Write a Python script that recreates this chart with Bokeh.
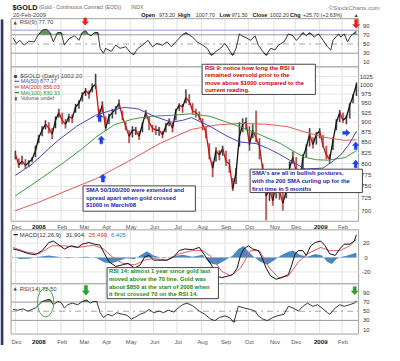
import math
import numpy as np
from bokeh.plotting import figure
from bokeh.models import Range1d, LogScale
from bokeh.core.properties import value
from bokeh.embed import file_html
from bokeh.resources import INLINE

# ---------------- data (x = trading-day index from 3-Dec-2007) ----------------
month_idx = [0, 20, 41, 61, 81, 103, 124, 145, 167, 188, 209, 232, 251, 273, 293]
month_lbl = ["Dec", "2008", "Feb", "Mar", "Apr", "May", "Jun", "Jul", "Aug", "Sep", "Oct", "Nov", "Dec", "2009", "Feb"]

bar_idx = list(range(0, 307, 3))
close = [822, 797, 806, 796, 803, 810, 830,
         862, 880, 895, 885, 870, 905, 925,
         905, 895, 915, 910, 940, 950, 972,
         985, 975, 995, 1002, 918, 945,
         885, 915, 925, 935, 950, 915, 890, 865,
         880, 880, 865, 895, 925, 900, 885,
         880, 880, 868, 890, 903, 885, 930,
         945, 940, 965, 955, 930, 925, 915,
         895, 875, 820, 790, 830, 820, 835,
         805, 800, 745, 780, 865, 895, 900,
         845, 880, 860, 840, 785, 730, 745, 720,
         760, 740, 715, 740, 790, 815,
         780, 752, 815, 838, 870, 845, 870,
         878, 842, 820, 810, 855, 900, 925,
         905, 913, 945, 970, 1002]
high = [830, 812, 818, 810, 808, 815, 842,
        868, 890, 905, 900, 885, 915, 935,
        925, 908, 922, 920, 948, 958, 980,
        992, 985, 1005, 1033, 935, 955,
        915, 922, 935, 942, 960, 930, 900, 880,
        890, 888, 878, 900, 932, 915, 893,
        892, 888, 878, 898, 910, 898, 935,
        950, 948, 988, 975, 950, 935, 928,
        910, 890, 848, 805, 838, 832, 842,
        830, 810, 768, 790, 900, 910, 912,
        890, 895, 930, 860, 800, 770, 760, 760,
        770, 758, 738, 755, 805, 828,
        815, 775, 822, 845, 885, 862, 875,
        885, 868, 842, 822, 862, 908, 932,
        925, 918, 950, 975, 1008]
low = [810, 790, 798, 788, 792, 803, 815,
       848, 865, 882, 872, 858, 885, 912,
       895, 884, 900, 898, 925, 935, 955,
       970, 962, 980, 990, 908, 925,
       878, 895, 910, 920, 935, 905, 880, 848,
       862, 868, 856, 875, 910, 880, 875,
       868, 866, 860, 875, 890, 875, 905,
       930, 925, 950, 945, 920, 912, 905,
       880, 860, 810, 770, 805, 808, 818,
       795, 780, 740, 755, 840, 875, 880,
       830, 860, 850, 810, 760, 681, 720, 710,
       725, 722, 700, 725, 745, 800,
       760, 738, 770, 815, 840, 835, 845,
       860, 838, 810, 800, 832, 880, 900,
       898, 895, 910, 950, 970]

sma50_idx = [0, 15, 30, 38, 55, 72, 85, 98, 110, 125, 140, 150, 158, 175, 190, 201, 216, 227, 236, 253, 260, 276, 285, 293, 300, 306]
sma50 = [774, 799, 835, 854, 890, 918, 930, 939, 935, 915, 900, 905, 912, 889, 865, 851, 847, 835, 823, 798, 788, 790, 806, 823, 848, 877.17]
sma100_idx = [0, 20, 43, 60, 72, 89, 105, 120, 140, 158, 175, 190, 205, 220, 238, 250, 259, 270, 280, 296, 306]
sma100 = [730, 762, 802, 835, 862, 894, 908, 915, 918, 922, 915, 900, 885, 868, 847, 828, 815, 809, 808, 814, 830.33]
sma200_idx = [0, 20, 43, 72, 90, 106, 130, 158, 180, 201, 225, 244, 260, 278, 295, 306]
sma200 = [700, 716, 738, 766, 790, 812, 848, 882, 893, 897, 895, 889, 875, 862, 855, 856.03]

rsi9_idx = [-2, 1, 4, 8, 12, 17, 20, 24, 28, 31, 34, 38, 41, 44, 48, 53, 57, 60, 63, 66,
            68, 71, 74, 76, 79, 81, 86, 90, 94, 99, 103, 106, 110, 114, 119, 123, 127, 132, 136, 140,
            144, 149, 153, 157, 159, 163, 168, 172, 176, 180, 184, 188, 191, 195, 198, 201, 203, 206, 211, 215,
            218, 222, 225, 229, 233, 236, 241, 245, 249, 252, 255, 258, 261, 264, 268, 272, 277, 280, 283, 285,
            290, 292, 295, 298, 301, 303, 306]
rsi9 = [62.9, 51, 58, 47.5, 56, 54.6, 68, 80, 82, 75, 54.6, 75, 75, 47.5, 61, 68, 58, 75, 79, 70,
        68, 75, 75, 40.6, 30, 40.6, 33.7, 47.5, 40.6, 44, 32, 26.7, 40.6, 47.5, 58, 44, 51, 47.5, 54.6, 44,
        54.6, 68, 75, 68, 65, 54.6, 47.5, 40.6, 25, 33.7, 40.6, 51, 40.6, 25, 40.6, 72, 68, 65, 58, 68,
        47.5, 33.7, 25, 40.6, 37, 47.5, 54.6, 72, 68, 58, 65, 75, 68, 75, 65, 72, 54.6, 44, 37, 58,
        72, 65, 72, 54.6, 68, 72, 77.7]

macd_idx = [-2, 4, 12, 18, 24, 30, 34, 38, 44, 50, 56, 60, 66, 71, 76, 80, 84, 90, 96, 101,
            107, 112, 116, 120, 124, 130, 136, 142, 147, 152, 159, 165, 170, 176, 180, 185, 191, 195, 199, 202,
            205, 209, 213, 218, 221, 225, 229, 234, 239, 245, 248, 251, 254, 258, 261, 265, 269, 274, 278, 282,
            287, 291, 295, 300, 304, 306]
macd = [12, 9.7, 5.3, 4, 9.7, 21, 23, 18.7, 12, 16.4, 14.2, 18.7, 21, 18.7, 17.3, 5.3, -5.8, -12.4, -10.2, -8,
        -14.7, -10.2, 0.9, 3, -3.6, -3.6, -3.6, 0.9, 9.7, 12, 11, 14.2, 3, -10.2, -25.7, -28, -25.7, -23.6, -14.7, 3,
        12, 16.4, 12, 9.7, 0.9, -14.7, -25.7, -30.2, -28, -23.6, -10.2, 5.3, 9.7, 9.7, 3, 16.4, 21, 23, 16.4, 5.3,
        3, 12, 18.7, 18.7, 23, 31.904]
sig_idx = [-2, 10, 21, 33, 44, 56, 70, 79, 87, 96, 107, 116, 124, 136, 147, 159, 168, 176, 185, 193,
           202, 211, 219, 228, 236, 245, 254, 262, 274, 282, 291, 300, 306]
signal = [14, 7.6, 5.3, 16.4, 16.4, 14.2, 17.3, 12, 0.9, -8, -10.2, -3.6, -1.3, -3.6, 5.3, 9.7, 9.7, 0.9, -19, -25.7,
          -14.7, 9.7, 9.7, -14.7, -28, -25.7, -5.8, 5.3, 14.2, 9.7, 9.7, 16.4, 25.499]
hist_idx = [-3, 4, 12, 21, 30, 38, 47, 56, 64, 73, 80, 86, 92, 99, 107, 114, 118, 124, 133, 142,
            150, 159, 168, 174, 181, 189, 195, 200, 205, 209, 214, 219, 226, 232, 238, 245, 249, 255, 262, 269,
            275, 280, 284, 288, 293, 298, 304, 306]
hist = [1, -2, -1.5, 1, 3, 1, -1, 0.5, 1, -1, -7, -8, -5, -1, -2, 5, 9, 3, -1, 2,
        4, 1, 4, -8, -10, -3, 3, 12, 16, 8, 1, -5, -10, -4, 3, 8, 10, 4, 1, 5,
        3, -6, -9, -2, 1, 3, 6, 6.405]

rsi14_idx = [-2, 2, 7, 11, 15, 18, 21, 24, 28, 31, 34, 38, 41, 44, 47, 51, 56, 60, 64, 67,
             70, 73, 76, 79, 83, 87, 91, 96, 100, 104, 107, 112, 116, 120, 124, 129, 133, 137, 142, 146,
             150, 154, 159, 165, 170, 175, 179, 183, 188, 192, 196, 200, 205, 211, 215, 218, 222, 226, 231, 235,
             241, 245, 249, 254, 258, 262, 267, 271, 275, 280, 282, 287, 291, 295, 300, 304, 306]
rsi14 = [53.9, 52.4, 55, 50.3, 53.9, 57.2, 64.3, 71.2, 74.8, 76, 64.3, 71.2, 69, 57.2, 64.3, 67.7, 64.3, 71.2, 74.8, 67.7,
         71.2, 71.2, 46.8, 36.3, 43.4, 39.9, 46.8, 43.4, 41.4, 33, 36.3, 43.4, 46.8, 53.9, 46.8, 50.3, 46.8, 52.4, 48.2, 57.2,
         64.3, 67.7, 62, 50.3, 43.4, 33, 29.5, 36.3, 39.9, 36.3, 25.9, 60.8, 57.2, 53.9, 50.3, 39.9, 33, 29.5, 36.3, 39.9,
         43.4, 60.8, 57.2, 50.3, 60.8, 67.7, 60.8, 64.3, 57.2, 46.8, 43.4, 57.2, 64.3, 60.8, 64.3, 67.7, 72.5]

rsi_ticks = [90, 70, 50, 30, 10]
price_ticks = [1025, 1000, 975, 950, 925, 900, 875, 850, 825, 800, 775, 750, 725, 700]
macd_ticks = [20, 0, -20]

# ---------------- layout (reference-pixel coordinates) ----------------
W, H = 384, 345
RW, RH = 400, 361
FS = W / RW
X0, XK = 15.5, 1.161


def ix(xpx):
    return (xpx - X0) / XK


PL, PR = 11, 373
RSI9_T, RSI9_B = 19, 69.5
PR_T, PR_B = 69.5, 231
MA_T, MA_B = 240, 296.5
R14_T, R14_B = 296.5, 349


def lin_range(v1, y1, v2, y2):
    s = (v1 - v2) / (y2 - y1)
    return Range1d(v2 - s * (RH - y2), v1 + s * y1)


def log_range(v1, y1, v2, y2):
    b = (y2 - y1) / (math.log(v1) - math.log(v2))
    top = math.exp(math.log(v1) + y1 / b)
    bot = math.exp(math.log(v1) - (RH - y1) / b)
    return Range1d(bot, top)


p = figure(width=W, height=H, output_backend="svg", toolbar_location=None, title=None,
           x_range=Range1d(ix(0), ix(RW)), y_range=Range1d(RH, 0),
           x_axis_location=None, y_axis_location=None, min_border=0)
p.outline_line_color = None
p.background_fill_color = "white"
p.border_fill_color = "white"
p.xgrid.visible = False
p.ygrid.visible = False
p.extra_x_ranges = {"px": Range1d(0, RW)}
p.extra_y_ranges = {
    "rsi9": lin_range(90, 26.3, 10, 64.7),
    "price": log_range(1033, 76.7, 681, 230),
    "macd": lin_range(20, 254, -20, 284),
    "rsi14": lin_range(90, 306, 10, 344.3),
}
p.extra_y_scales = {"price": LogScale()}

FONT = "Liberation Sans"


def texts(xs, ys, ss, size, color="#333333", bold=False, align="left", xr="px", yr="default", font=FONT):
    p.text(x=list(xs), y=list(ys), text=list(ss), x_range_name=xr, y_range_name=yr,
           text_font=value(font), text_font_size=value(f"{size * FS:.2f}px"),
           text_color=color, text_align=align, text_baseline="middle",
           text_font_style="bold" if bold else "normal")


# panels
p.quad(left=[PL] * 4, right=[PR] * 4, top=[RSI9_T, PR_T, MA_T, R14_T], bottom=[RSI9_B, PR_B, MA_B, R14_B],
       x_range_name="px", fill_color="white", line_color="#a0a0a0", line_width=1)
p.quad(left=[0], right=[3], top=[20], bottom=[RH], x_range_name="px", fill_color="#30346e", line_color=None)

# vertical month grid
nm = len(month_idx)
for t, b in [(RSI9_T, RSI9_B), (PR_T, PR_B), (MA_T, MA_B), (R14_T, R14_B)]:
    p.segment(x0=month_idx, x1=month_idx, y0=[t + 0.5] * nm, y1=[b - 0.5] * nm, line_color="#e0e0e0", line_width=1)

# horizontal grids
k = len(price_ticks)
p.segment(x0=[PL] * k, x1=[PR] * k, y0=price_ticks, y1=price_ticks, x_range_name="px", y_range_name="price",
          line_color="#e6e6e6", line_width=1)
p.segment(x0=[PL] * 3, x1=[PR] * 3, y0=macd_ticks, y1=macd_ticks, x_range_name="px", y_range_name="macd",
          line_color="#e6e6e6", line_width=1)
for rn in ["rsi9", "rsi14"]:
    p.segment(x0=[PL] * 2, x1=[PR] * 2, y0=[70, 30], y1=[70, 30], x_range_name="px", y_range_name=rn,
              line_color="#9a9a9a", line_width=1)
    p.segment(x0=[PL], x1=[PR], y0=[50], y1=[50], x_range_name="px", y_range_name=rn,
              line_color="#a8a8a8", line_width=1, line_dash="dashdot")
p.segment(x0=[PL], x1=[PR], y0=[80], y1=[80], x_range_name="px", y_range_name="rsi9",
          line_color="#b9b9e6", line_width=1.6)

# ---------------- RSI(9) ----------------
r9 = np.array(rsi9)
p.varea(x=rsi9_idx, y1=70, y2=np.maximum(r9, 70), y_range_name="rsi9", fill_color="#5f9260")
p.varea(x=rsi9_idx, y1=np.minimum(r9, 30), y2=30, y_range_name="rsi9", fill_color="#9e6f6f")
p.line(rsi9_idx, rsi9, y_range_name="rsi9", line_color="#222222", line_width=0.9)

# ---------------- price ----------------
cl = np.array(close)
col = ["#111111"] + ["#111111" if cl[i] >= cl[i - 1] else "#cc1010" for i in range(1, len(cl))]
p.segment(x0=bar_idx, x1=bar_idx, y0=low, y1=high, y_range_name="price", line_color="#b0b0b0", line_width=2.2)
p.segment(x0=bar_idx, x1=bar_idx, y0=low, y1=high, y_range_name="price", line_color=col, line_width=0.8)
p.segment(x0=bar_idx[:-1], y0=close[:-1], x1=bar_idx[1:], y1=close[1:], y_range_name="price",
          line_color=col[1:], line_width=1.3)
p.line(sma200_idx, sma200, y_range_name="price", line_color="#e25a5a", line_width=1)
p.line(sma100_idx, sma100, y_range_name="price", line_color="#3c9a3c", line_width=1)
p.line(sma50_idx, sma50, y_range_name="price", line_color="#4848b0", line_width=1)

# ---------------- MACD ----------------
p.varea(x=hist_idx, y1=0, y2=hist, y_range_name="macd", fill_color="#4a88c2")
p.line(sig_idx, signal, y_range_name="macd", line_color="#e65b5b", line_width=1)
p.line(macd_idx, macd, y_range_name="macd", line_color="#111111", line_width=1)

# ---------------- RSI(14) ----------------
r14 = np.array(rsi14)
p.varea(x=rsi14_idx, y1=70, y2=np.maximum(r14, 70), y_range_name="rsi14", fill_color="#5f9260")
p.varea(x=rsi14_idx, y1=np.minimum(r14, 30), y2=30, y_range_name="rsi14", fill_color="#9e6f6f")
p.line(rsi14_idx, rsi14, y_range_name="rsi14", line_color="#222222", line_width=0.9)

# ---------------- right-hand value labels ----------------
texts([381] * 5, rsi_ticks, [str(t) for t in rsi_ticks], 6.2, align="center", yr="rsi9")
texts([381] * k, price_ticks, [str(t) for t in price_ticks], 6.2, align="center", yr="price")
texts([381] * 3, macd_ticks, [str(t) for t in macd_ticks], 6.2, align="center", yr="macd")
texts([381] * 5, rsi_ticks, [str(t) for t in rsi_ticks], 6.2, align="center", yr="rsi14")

# ---------------- date labels ----------------
norm = [i for i, s in enumerate(month_lbl) if not s.isdigit()]
yrs = [i for i, s in enumerate(month_lbl) if s.isdigit()]
for ylab in [236.5, 357]:
    texts([month_idx[i] + 1 for i in norm], [ylab] * len(norm), [month_lbl[i] for i in norm], 6.0,
          color="#555555", align="center", xr="default")
    texts([month_idx[i] + 1 for i in yrs], [ylab] * len(yrs), [month_lbl[i] for i in yrs], 6.4,
          color="#111111", bold=True, align="center", xr="default")

# ---------------- header ----------------
texts([12.5], [7], ["$GOLD"], 7.6, color="#111111", bold=True)
texts([40], [7.2], ["(Gold - Continuous Contract (EOD))"], 5.4, color="#666666")
texts([136], [7.2], ["INDX"], 5.4, color="#666666")
texts([395], [7.2], ["\u00a9StockCharts.com"], 6.4, color="#777777", align="right")
texts([13], [15.3], ["20-Feb-2009"], 6.0, color="#444444")
texts([146.5, 185, 228, 262.5, 301.5], [15.3] * 5, ["Open", "High", "Low", "Close", "Chg"], 5.7,
      color="#111111", bold=True)
texts([165, 203.5, 240.5, 280.5, 315], [15.3] * 5, ["973.20", "1007.70", "971.50", "1002.20", "+25.70 (+2.63%)"],
      5.5, color="#333333")
texts([369], [15.5], ["\u25b4"], 6, color="#333333", font="DejaVu Sans")

# panel legends
texts([13.5], [22.6], ["\u25b2"], 4.5, color="#444444", font="DejaVu Sans")
texts([20], [22.6], ["RSI(9) 77.70"], 6.2, color="#444444")
texts([13.5], [78.5], ["\u25aa"], 6, color="#444444", font="DejaVu Sans")
texts([20.5], [78.5], ["$GOLD (Daily) 1002.20"], 6.2, color="#444444")
p.segment(x0=[14.5] * 3, x1=[19.5] * 3, y0=[84.5, 90.5, 96.5], y1=[84.5, 90.5, 96.5], x_range_name="px",
          line_color=["#4848b0", "#d03030", "#3c9a3c"], line_width=1.2)
texts([21] * 3, [84.5, 90.5, 96.5], ["MA(50) 877.17", "MA(200) 856.03", "MA(100) 830.33"], 5.7,
      color=["#4848b0", "#cc3333", "#339933"])
texts([14.5], [102.5], ["\u25ae"], 5, color="#555555", font="DejaVu Sans")
texts([21], [102.5], ["Volume undef"], 5.7, color="#555555")
p.segment(x0=[13.5], x1=[18], y0=[245], y1=[245], x_range_name="px", line_color="#222222", line_width=1.2)
texts([20, 68, 92, 115], [245] * 4, ["MACD(12,26,9)", "31.904,", "25.499,", "6.405"], 6.2,
      color=["#333333", "#333333", "#cc3333", "#3a7ab8"])
texts([13.5], [301.8], ["\u25b2"], 4.5, color="#444444", font="DejaVu Sans")
texts([20], [301.8], ["RSI(14) 72.50"], 6.2, color="#444444")

# ---------------- annotations ----------------
p.ellipse(x=[47], y=[316], width=[17], height=[30], x_range_name="px", fill_color=None,
          line_color="#44aa44", line_width=1)


def down_arrow(xc, ytop, ytip, hw, sw, hl):
    return ([xc - sw, xc + sw, xc + sw, xc + hw, xc, xc - hw, xc - sw],
            [ytop, ytop, ytip - hl, ytip - hl, ytip, ytip - hl, ytip - hl])


def up_arrow(xc, ytip, ybot, hw, sw, hl):
    return ([xc - sw, xc + sw, xc + sw, xc + hw, xc, xc - hw, xc - sw],
            [ybot, ybot, ytip + hl, ytip + hl, ytip, ytip + hl, ytip + hl])


def right_arrow(x0, xtip, yc, hw, sw, hl):
    return ([x0, x0, xtip - hl, xtip - hl, xtip, xtip - hl, xtip - hl],
            [yc - sw, yc + sw, yc + sw, yc + hw, yc, yc - hw, yc - sw])


def draw_arrows(arrs, color):
    p.patches([a[0] for a in arrs], [a[1] for a in arrs], x_range_name="px", fill_color=color,
              line_color=color, line_width=0.5)


draw_arrows([down_arrow(88.3, 18.3, 25.8, 3.3, 1.5, 3.6), down_arrow(370.5, 19.8, 29, 3.6, 1.6, 4)], "#e8221b")
draw_arrows([down_arrow(89, 298.3, 308.3, 3.6, 1.6, 4.2), down_arrow(369, 299.5, 308, 3.6, 1.6, 4)], "#2a9f2a")
draw_arrows([up_arrow(103.3, 118.2, 126.7, 3.3, 1.5, 3.8), up_arrow(105, 141.7, 150, 3.3, 1.5, 3.8),
             up_arrow(106.7, 181.7, 190, 3.3, 1.5, 3.8), up_arrow(370, 148, 155.8, 3.3, 1.5, 3.8),
             up_arrow(370, 167, 175, 3.3, 1.5, 3.8), right_arrow(356.5, 364, 138.5, 3.4, 1.5, 3.8)], "#1f3fe0")

boxes = [
    (210, 328, 66.7, 98.3, 213, [70.5, 78.3, 86.1, 93.9],
     ["RSI 9:  notice how long the RSI 9", "remained oversold prior to the",
      "move above $1000 compared to the", "current reading."], "#cc0000"),
    (86, 203, 194, 220.5, 89, [198.5, 206.5, 214.5],
     ["SMA 50/100/200 were extended and", "spread apart when gold crossed", "$1000 in March/08"], "#1c1ca8"),
    (260, 377, 176.5, 201, 262, [181, 189, 197],
     ["SMA's are all in bullish postures,", "with the 200 SMA curling up for the", "first time in 5 months"],
     "#1c1ca8"),
    (111, 227, 279.5, 312, 113, [283.5, 291.5, 299.5, 307.5],
     ["RSI 14:  almost 1 year since gold last", "moved above the 70 line.   Gold was",
      "about $850 at the start of 2008 when", "it first crossed 70 on the RSI 14."], "#1a8a1a"),
]
for l, r, t, b, tx, tys, lines, c in boxes:
    p.quad(left=[l], right=[r], top=[t], bottom=[b], x_range_name="px", fill_color="white",
           line_color="#444444", line_width=1)
    texts([tx] * len(lines), tys, lines, 6.1, color=c, bold=True)

open("out.html", "w").write(file_html(p, INLINE))
